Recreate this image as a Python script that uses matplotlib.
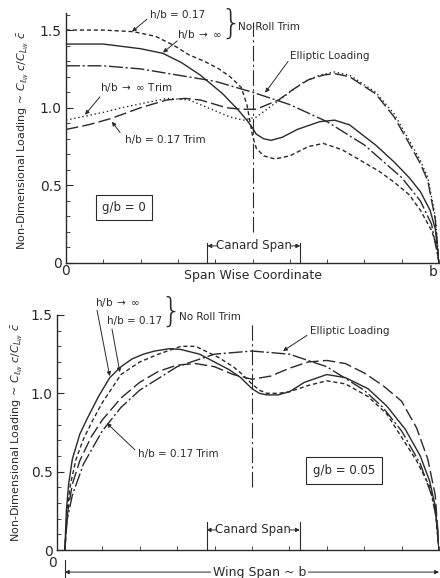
import matplotlib
matplotlib.use("Agg")
import matplotlib.pyplot as plt
from matplotlib.ticker import MultipleLocator

ink = "#2a2a2a"
plt.rcParams['font.family'] = ['DejaVu Sans']

# ---- top panel (g/b = 0), x = span wise coordinate 0..b
top_x_solid = [0, 0.1, 0.2, 0.26, 0.31, 0.36, 0.42, 0.46, 0.485, 0.50, 0.51, 0.53, 0.55, 0.58,
               0.62, 0.68, 0.72, 0.76, 0.83, 0.88, 0.92, 0.95, 0.976, 0.99, 1.0]
top_y_solid = [1.41, 1.41, 1.38, 1.35, 1.29, 1.21, 1.09, 0.99, 0.92, 0.87, 0.83, 0.80, 0.79, 0.81,
               0.86, 0.91, 0.92, 0.89, 0.76, 0.65, 0.55, 0.46, 0.34, 0.22, 0.0]

top_x_dash = [0, 0.1, 0.18, 0.24, 0.29, 0.33, 0.37, 0.41, 0.44, 0.47, 0.485, 0.50, 0.51, 0.53,
              0.56, 0.60, 0.65, 0.69, 0.74, 0.79, 0.84, 0.88, 0.92, 0.95, 0.98, 0.995, 1.0]
top_y_dash = [1.50, 1.50, 1.49, 1.46, 1.40, 1.34, 1.30, 1.25, 1.20, 1.13, 1.02, 0.82, 0.74, 0.69,
              0.67, 0.69, 0.75, 0.77, 0.73, 0.66, 0.59, 0.52, 0.44, 0.34, 0.21, 0.10, 0.0]

top_x_inf_trim = [0, 0.04, 0.1, 0.15, 0.21, 0.27, 0.33, 0.38, 0.44, 0.475, 0.51, 0.55, 0.60, 0.64,
                  0.68, 0.72, 0.76, 0.83, 0.88, 0.92, 0.95, 0.97, 0.99, 1.0]
top_y_inf_trim = [0.92, 0.94, 0.97, 1.0, 1.03, 1.06, 1.05, 1.00, 0.94, 0.92, 0.94, 1.01, 1.10, 1.17,
                  1.21, 1.23, 1.21, 1.10, 0.96, 0.79, 0.66, 0.55, 0.30, 0.0]

top_x_017_trim = [0, 0.06, 0.12, 0.2, 0.27, 0.32, 0.36, 0.43, 0.47, 0.51, 0.57, 0.61, 0.65, 0.69,
                  0.72, 0.76, 0.83, 0.88, 0.92, 0.95, 0.97, 0.99, 1.0]
top_y_017_trim = [0.86, 0.89, 0.93, 1.0, 1.05, 1.06, 1.05, 1.00, 0.99, 0.99, 1.05, 1.12, 1.18, 1.21,
                  1.22, 1.20, 1.09, 0.94, 0.77, 0.64, 0.53, 0.28, 0.0]

top_x_ellip = [0, 0.1, 0.2, 0.3, 0.4, 0.5, 0.6, 0.7, 0.8, 0.9, 0.95, 0.98, 1.0]
top_y_ellip = [1.27, 1.27, 1.25, 1.21, 1.17, 1.10, 1.02, 0.91, 0.76, 0.55, 0.40, 0.25, 0.0]

# ---- bottom panel (g/b = 0.05), x = wing span 0..b
bot_x_solid = [0, 0.004, 0.01, 0.02, 0.04, 0.06, 0.09, 0.12, 0.15, 0.18, 0.21, 0.24, 0.28, 0.31,
               0.36, 0.40, 0.44, 0.47, 0.50, 0.52, 0.54, 0.57, 0.60, 0.64, 0.70, 0.75, 0.81, 0.86,
               0.91, 0.95, 0.975, 0.99, 1.0]
bot_y_solid = [0, 0.25, 0.42, 0.58, 0.74, 0.84, 0.98, 1.10, 1.17, 1.22, 1.25, 1.27, 1.285, 1.28,
               1.25, 1.20, 1.15, 1.10, 1.03, 1.00, 0.99, 0.99, 1.01, 1.07, 1.12, 1.10, 1.03, 0.92,
               0.77, 0.60, 0.44, 0.28, 0]

bot_x_dash = [0, 0.006, 0.015, 0.03, 0.05, 0.075, 0.1, 0.15, 0.2, 0.25, 0.31, 0.35, 0.41, 0.45,
              0.47, 0.50, 0.52, 0.54, 0.57, 0.60, 0.65, 0.70, 0.75, 0.81, 0.86, 0.9, 0.94, 0.976,
              0.99, 1.0]
bot_y_dash = [0, 0.25, 0.42, 0.58, 0.71, 0.83, 0.94, 1.12, 1.20, 1.25, 1.30, 1.30, 1.23, 1.17,
              1.13, 1.06, 1.02, 1.00, 1.00, 1.01, 1.05, 1.08, 1.06, 0.98, 0.87, 0.72, 0.57, 0.40,
              0.25, 0]

bot_x_trim = [0, 0.008, 0.02, 0.04, 0.07, 0.1, 0.15, 0.2, 0.25, 0.3, 0.35, 0.4, 0.45, 0.5, 0.55,
              0.6, 0.65, 0.7, 0.75, 0.8, 0.85, 0.9, 0.94, 0.97, 0.99, 1.0]
bot_y_trim = [0, 0.25, 0.42, 0.57, 0.72, 0.83, 0.97, 1.07, 1.14, 1.18, 1.19, 1.17, 1.12, 1.09, 1.11,
              1.16, 1.20, 1.21, 1.19, 1.13, 1.05, 0.95, 0.78, 0.58, 0.35, 0]

bot_x_ellip = [0, 0.005, 0.02, 0.05, 0.1, 0.15, 0.2, 0.3, 0.4, 0.5, 0.6, 0.7, 0.8, 0.85, 0.9, 0.95,
               0.98, 0.995, 1.0]
bot_y_ellip = [0, 0.18, 0.35, 0.55, 0.76, 0.91, 1.02, 1.17, 1.25, 1.27, 1.25, 1.17, 1.02, 0.91,
               0.76, 0.55, 0.35, 0.18, 0]

canard_span = [0.379, 0.628]

ylabel = r"Non-Dimensional Loading ~ $C_{\ell_W}\ c/C_{L_W}\ \bar{c}$"

LS_SHORT = (0, (3, 2))
LS_LONG = (0, (9, 3))
LS_DOT = (0, (1, 2))
LS_ELL = (0, (10, 2, 1.5, 2))
LS_CL = (0, (14, 3, 2, 3))
FS = 7.5

fig = plt.figure(figsize=(4.4, 5.78), dpi=100)
ax1 = fig.add_axes([66 / 440, 1 - 263 / 578, 373 / 440, 250 / 578])
ax2 = fig.add_axes([57 / 440, 1 - 550 / 578, 382 / 440, 235 / 578])


def style_axes(ax, ytop, xlo):
    ax.set_xlim(xlo, 1.0)
    ax.set_ylim(0, ytop)
    for s in ["top", "right"]:
        ax.spines[s].set_visible(False)
    for s in ["left", "bottom"]:
        ax.spines[s].set_color(ink)
        ax.spines[s].set_linewidth(1.0)
    ax.set_yticks([0, 0.5, 1.0, 1.5])
    ax.set_yticklabels(["0", "0.5", "1.0", "1.5"])
    ax.yaxis.set_minor_locator(MultipleLocator(0.1))
    ax.xaxis.set_minor_locator(MultipleLocator(0.1))
    ax.tick_params(axis="y", which="major", direction="in", length=5, color=ink,
                   labelsize=10, labelcolor=ink, pad=3)
    ax.tick_params(axis="y", which="minor", direction="in", length=3, color=ink)
    ax.tick_params(axis="x", which="minor", direction="in", length=3, color=ink)
    ax.tick_params(axis="x", which="major", direction="in", length=0, labelsize=10,
                   labelcolor=ink, pad=1)


def arrow(ax, txt_xy, tip_xy):
    ax.annotate("", xy=tip_xy, xytext=txt_xy, annotation_clip=False,
                arrowprops=dict(arrowstyle="-|>", color=ink, lw=0.7, mutation_scale=6,
                                shrinkA=0, shrinkB=0))


def canard(ax, top, ytext):
    for cx in canard_span:
        ax.plot([cx, cx], [0, top], color=ink, lw=0.8)
    ax.text(0.503, ytext, "Canard Span", ha="center", va="center", fontsize=8.5, color=ink)
    arrow(ax, (0.405, ytext), (canard_span[0], ytext))
    arrow(ax, (0.602, ytext), (canard_span[1], ytext))


# ---------------- top panel
style_axes(ax1, 1.61, 0.0)
ax1.set_xticks([0])
ax1.set_xticklabels(["0"])
ax1.text(0.997, -0.035, "b", fontsize=10, color=ink, ha="right", va="center",
         transform=ax1.get_xaxis_transform())
ax1.plot(top_x_solid, top_y_solid, color=ink, lw=1.0)
ax1.plot(top_x_dash, top_y_dash, color=ink, lw=1.0, ls=LS_SHORT)
ax1.plot(top_x_inf_trim, top_y_inf_trim, color=ink, lw=1.0, ls=LS_DOT)
ax1.plot(top_x_017_trim, top_y_017_trim, color=ink, lw=1.0, ls=LS_LONG)
ax1.plot(top_x_ellip, top_y_ellip, color=ink, lw=1.0, ls=LS_ELL)
ax1.plot([0.5, 0.5], [0.2, 1.55], color=ink, lw=0.8, ls=LS_CL)

ax1.text(0.225, 1.60, "h/b = 0.17", fontsize=FS, color=ink, va="center", clip_on=False)
arrow(ax1, (0.217, 1.57), (0.177, 1.49))
ax1.text(0.298, 1.47, r"h/b $\rightarrow$ $\infty$", fontsize=FS, color=ink, va="center")
arrow(ax1, (0.298, 1.43), (0.26, 1.355))
ax1.text(0.442, 1.535, "}", fontsize=24, color=ink, va="center", ha="center", fontweight="light")
ax1.text(0.462, 1.52, "No Roll Trim", fontsize=FS, color=ink, va="center")
ax1.text(0.60, 1.33, "Elliptic Loading", fontsize=FS, color=ink, va="center")
arrow(ax1, (0.595, 1.297), (0.534, 1.097))
ax1.text(0.091, 1.13, r"h/b $\rightarrow$ $\infty$ Trim", fontsize=FS, color=ink, va="center")
arrow(ax1, (0.091, 1.07), (0.051, 0.955))
ax1.text(0.158, 0.79, "h/b = 0.17 Trim", fontsize=FS, color=ink, va="center")
arrow(ax1, (0.145, 0.84), (0.123, 0.91))
ax1.text(0.155, 0.36, "g/b = 0", fontsize=8.5, color=ink, ha="center", va="center",
         bbox=dict(boxstyle="square,pad=0.5", fc="white", ec=ink, lw=0.8))
canard(ax1, 0.13, 0.11)
ax1.text(0.5, -0.05, "Span Wise Coordinate", fontsize=9, color=ink, ha="center", va="center",
         transform=ax1.get_xaxis_transform())

# ---------------- bottom panel
style_axes(ax2, 1.5, -0.021)
ax2.set_xticks([])
ax2.plot(bot_x_solid, bot_y_solid, color=ink, lw=1.0)
ax2.plot(bot_x_dash, bot_y_dash, color=ink, lw=1.0, ls=LS_SHORT)
ax2.plot(bot_x_trim, bot_y_trim, color=ink, lw=1.0, ls=LS_LONG)
ax2.plot(bot_x_ellip, bot_y_ellip, color=ink, lw=1.0, ls=LS_ELL)
ax2.plot([0.5, 0.5], [0.40, 1.45], color=ink, lw=0.8, ls=LS_CL)

ax2.text(0.08, 1.58, r"h/b $\rightarrow$ $\infty$", fontsize=FS, color=ink, va="center", clip_on=False)
ax2.text(0.112, 1.46, "h/b = 0.17", fontsize=FS, color=ink, va="center")
ax2.text(0.283, 1.515, "}", fontsize=24, color=ink, va="center", ha="center", fontweight="light",
         clip_on=False)
ax2.text(0.305, 1.49, "No Roll Trim", fontsize=FS, color=ink, va="center", clip_on=False)
arrow(ax2, (0.086, 1.53), (0.12, 1.11))
arrow(ax2, (0.126, 1.41), (0.147, 1.135))
ax2.text(0.655, 1.40, "Elliptic Loading", fontsize=FS, color=ink, va="center")
arrow(ax2, (0.647, 1.37), (0.583, 1.27))
ax2.text(0.195, 0.615, "h/b = 0.17 Trim", fontsize=FS, color=ink, va="center")
arrow(ax2, (0.187, 0.64), (0.112, 0.81))
ax2.text(0.746, 0.51, "g/b = 0.05", fontsize=8.5, color=ink, ha="center", va="center",
         bbox=dict(boxstyle="square,pad=0.6", fc="white", ec=ink, lw=0.8))
canard(ax2, 0.18, 0.128)

ax2.text(-0.032, -0.083, "0", fontsize=10, color=ink, ha="center", va="center", clip_on=False)
ax2.plot([0, 0], [-0.064, -0.19], color=ink, lw=0.8, clip_on=False)
ax2.text(0.52, -0.141, "Wing Span ~ b", fontsize=9, color=ink, ha="center", va="center",
         bbox=dict(boxstyle="square,pad=0.15", fc="white", ec="none"), zorder=5)
arrow(ax2, (0.5, -0.141), (0.0, -0.141))
arrow(ax2, (0.5, -0.141), (1.0, -0.141))

fig.text(0.052, 1 - 140 / 578, ylabel, rotation=90, ha="center", va="center", fontsize=8, color=ink)
fig.text(0.040, 1 - 432 / 578, ylabel, rotation=90, ha="center", va="center", fontsize=8, color=ink)

fig.savefig("out.png", dpi=100, facecolor="white")
